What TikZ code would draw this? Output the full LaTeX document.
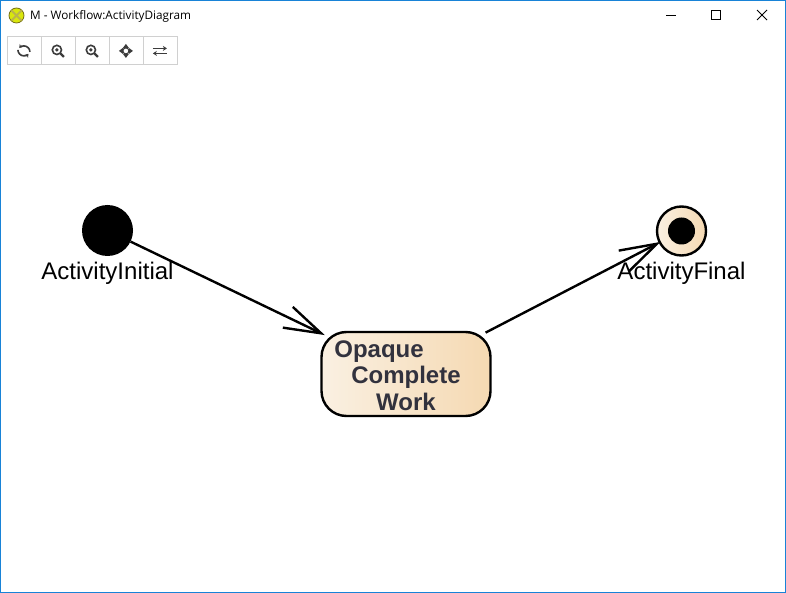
\documentclass[tikz,border=0pt]{standalone}
\usepackage{fontspec}
\setmainfont{Liberation Sans}
\newfontfamily\titlefont{Open Sans}
\usetikzlibrary{arrows.meta}
\definecolor{winblue}{RGB}{24,131,215}
\definecolor{btngrey}{RGB}{208,208,208}
\definecolor{icongrey}{RGB}{60,60,60}
\definecolor{opaquetext}{RGB}{50,50,62}
\definecolor{creamleft}{RGB}{250,240,226}
\definecolor{creamright}{RGB}{245,217,178}
\tikzset{
  flow/.style={line width=2.4pt, -{Straight Barb[length=37pt,width=23pt,line width=2.4pt]}},
  caption/.style={anchor=base, font=\fontsize{24}{26}\selectfont, inner sep=0pt},
  toolbtn/.style={draw=btngrey, line width=0.8pt, minimum width=34pt, minimum height=28pt, inner sep=0pt, anchor=north west},
  icon/.style={draw=icongrey, line width=1.6pt},
  winicon/.style={draw=black, line width=1pt}
}
\begin{document}
\begin{tikzpicture}[x=1pt, y=-1pt]
    \useasboundingbox (0, 0) rectangle (786, 593);
    \fill [white] (0, 0) rectangle (786, 593);
    \draw [winblue, line width=1pt] (0.5, 0.5) rectangle (785.5, 592.5);

    % title bar
    \node [circle, draw=olive!80!black, line width=0.8pt, fill=yellow!85!green, minimum size=15pt, inner sep=0pt] (appicon) at (16.5, 15.5) {};
    \draw [olive!60, line width=2pt] (11.5, 10.5) -- (21.5, 20.5) (21.5, 10.5) -- (11.5, 20.5);
    \node [anchor=base west, inner sep=0pt, font=\titlefont\fontsize{11.75}{14}\selectfont] (title) at (30, 20) {M - Workflow:ActivityDiagram};
    \draw [winicon] (666, 15.5) -- (676, 15.5);
    \draw [winicon] (711.5, 10.5) rectangle (720.5, 19.5);
    \draw [winicon, line width=0.8pt] (757, 10) -- (767, 20) (767, 10) -- (757, 20);

    % toolbar
    \foreach \n/\x in {reload/6.5, zoomout/40.5, zoomin/74.5, move/108.5, swap/142.5}
      \node [toolbtn] (\n) at (\x, 36.5) {};
    \draw [icon, -{Stealth[length=3.5pt,width=4.5pt]}] (reload) ++(-6, -1) arc (180:320:6 and -6);
    \draw [icon, -{Stealth[length=3.5pt,width=4.5pt]}] (reload) ++(6, 1) arc (0:140:6 and -6);
    \foreach \n in {zoomout, zoomin} {
      \draw [icon] (\n) ++(-1, -1) circle (4.6);
      \draw [icon, line width=2.2pt] (\n) ++(2.4, 2.4) -- ++(3.6, 3.6);
      \fill [icongrey] (\n) ++(-1, -1) circle (1.8);
    }
    \fill [icongrey] (move) ++(0, -7) -- ++(3, 4) -- ++(-6, 0) -- cycle;
    \fill [icongrey] (move) ++(0, 7) -- ++(3, -4) -- ++(-6, 0) -- cycle;
    \fill [icongrey] (move) ++(-7, 0) -- ++(4, 3) -- ++(0, -6) -- cycle;
    \fill [icongrey] (move) ++(7, 0) -- ++(-4, 3) -- ++(0, -6) -- cycle;
    \draw [icon, line width=1pt] (move) circle (3);
    \draw [icon, -{Stealth[length=4pt,width=5pt]}] (swap) ++(-7, -2.5) -- ++(14, 0);
    \draw [icon, -{Stealth[length=4pt,width=5pt]}] (swap) ++(7, 2.5) -- ++(-14, 0);

    % diagram
    \node [circle, fill=black, minimum size=51pt, inner sep=0pt] (initial) at (107.5, 230.5) {};
    \node [draw, line width=2.4pt, rounded corners=25pt, left color=creamleft, right color=creamright,
           minimum width=169pt, minimum height=84pt, inner sep=0pt, align=center,
           text=opaquetext, font=\bfseries\fontsize{24}{26.5}\selectfont] (opaque) at (406, 374)
           {\rule{0pt}{20pt}Opaque\hspace*{54pt}\\Complete\\Work};
    \node [circle, draw, line width=2.4pt, left color=creamleft, right color=creamright,
           minimum size=49pt, inner sep=0pt] (final) at (681.5, 231) {};
    \node [circle, fill=black, minimum size=27pt, inner sep=0pt] (finaldot) at (final) {};

    \draw [flow, shorten >=-5pt] (initial) -- (opaque);
    \draw [flow, shorten <=-4pt, shorten >=-2pt] (opaque) -- (final);

    \node [caption] (initiallabel) at (107.5, 279.5) {ActivityInitial};
    \node [caption] (finallabel) at (681.5, 279.5) {ActivityFinal};
\end{tikzpicture}
\end{document}
